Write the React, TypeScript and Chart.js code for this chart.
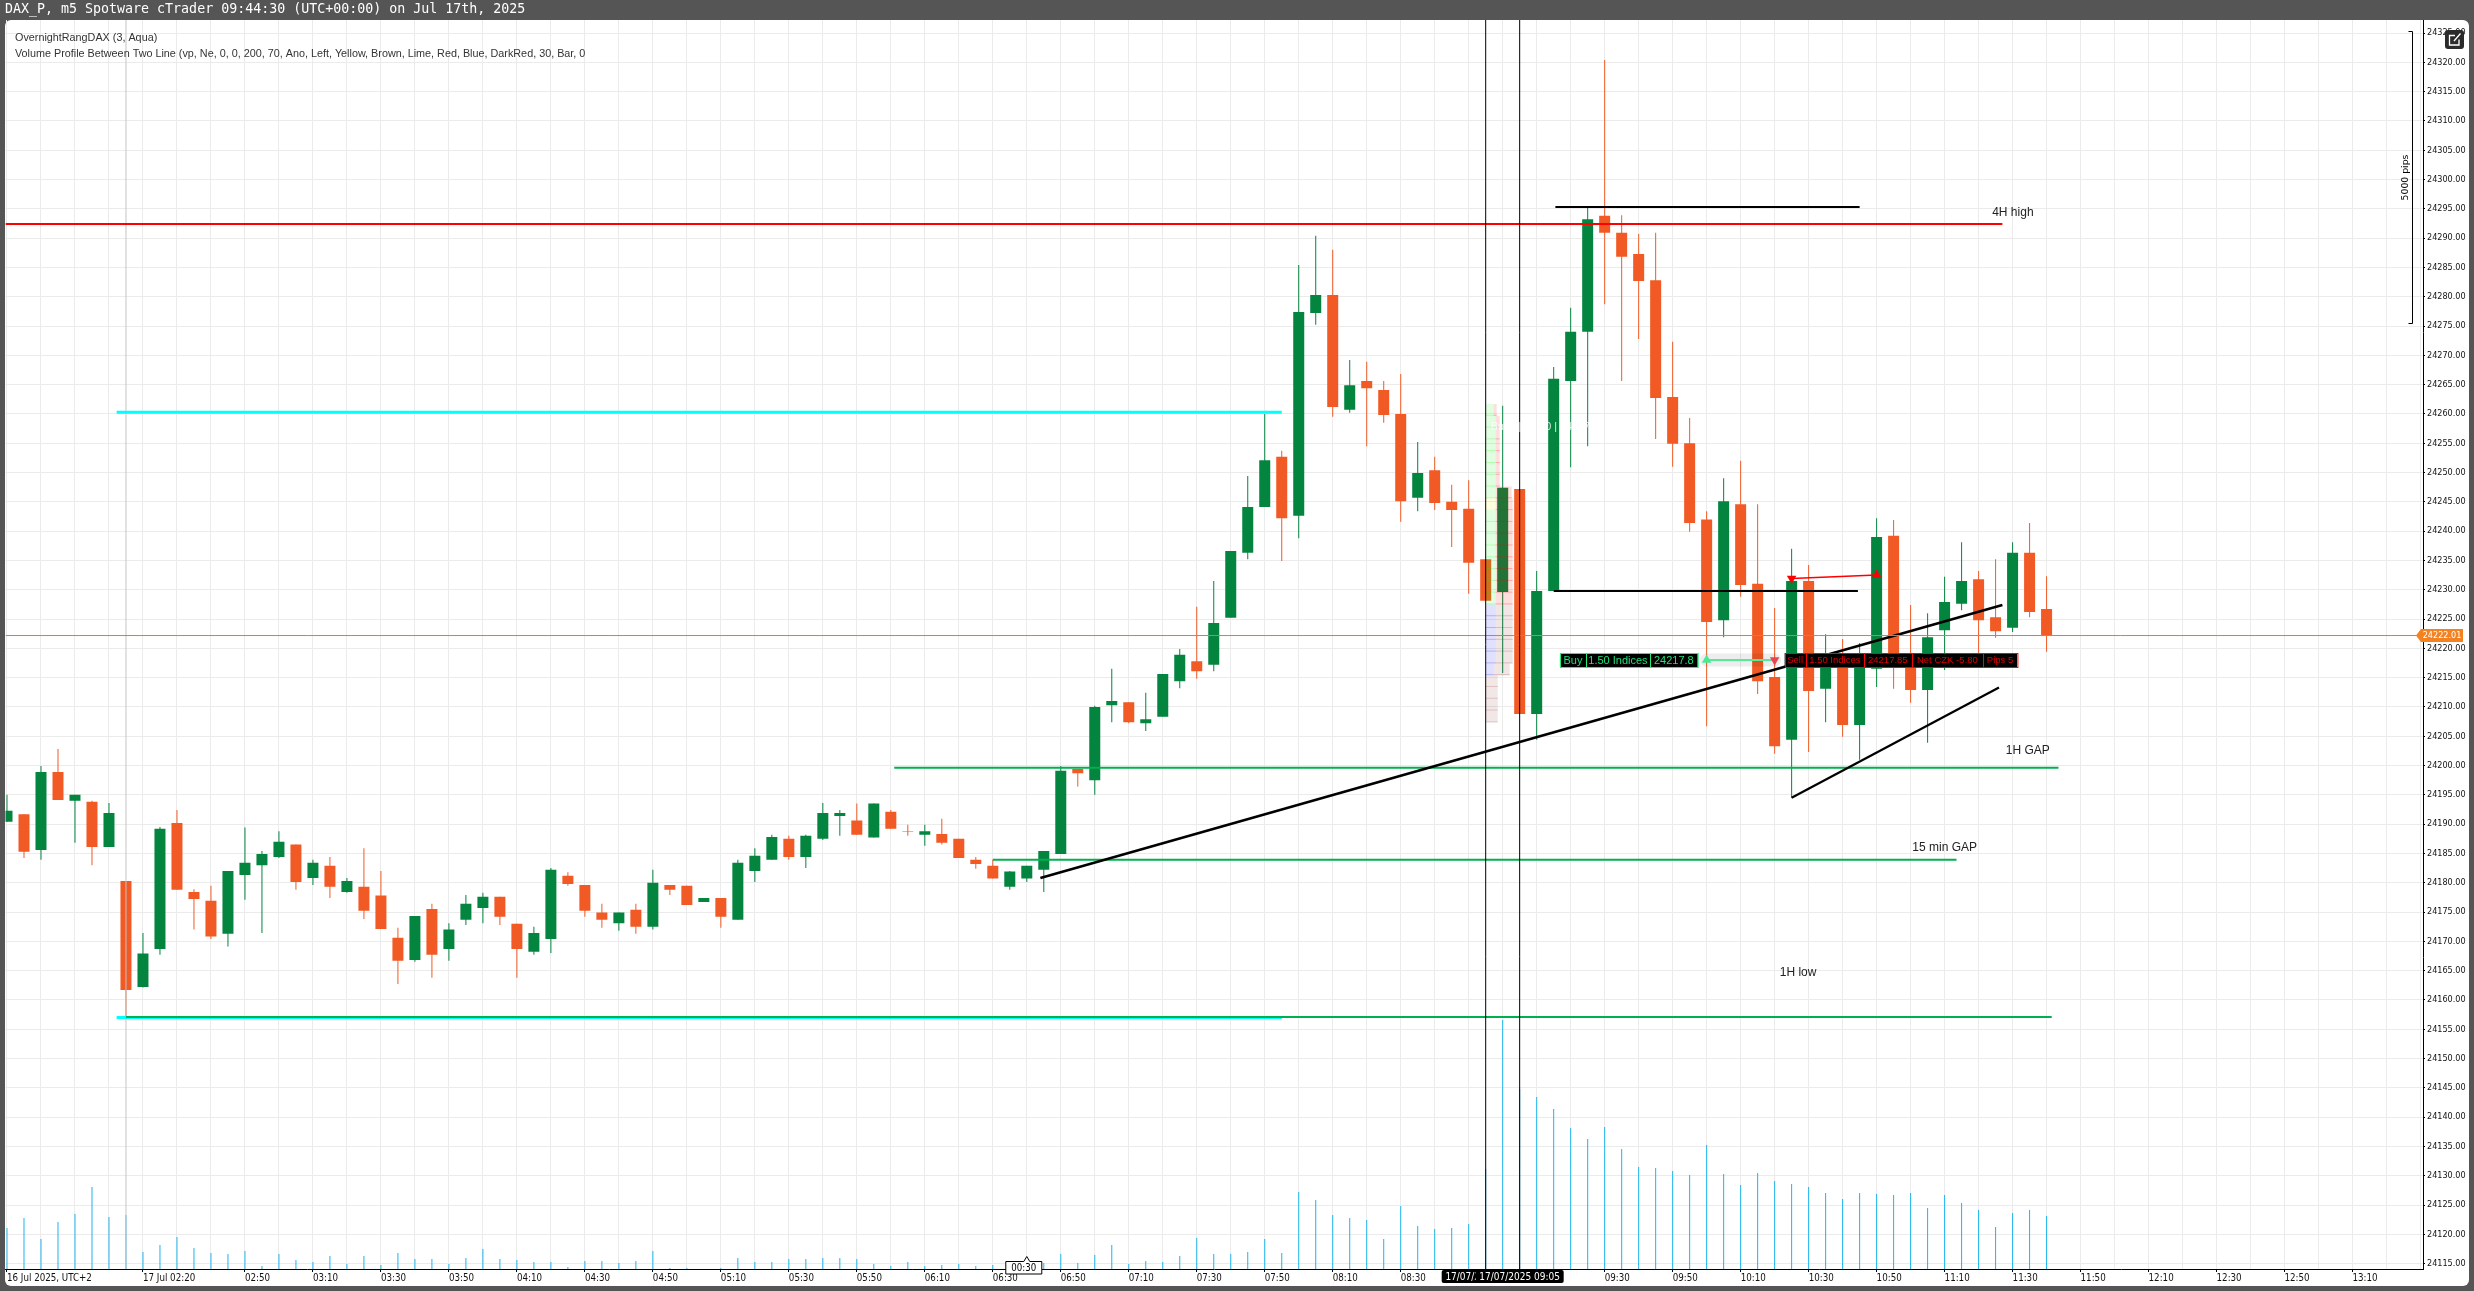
import { useEffect, useRef } from 'react';
import { Chart, registerables } from 'chart.js';

Chart.register(...registerables);

// ---------- candle data (5 minute bars, index 0..120) ----------
const opens = [24190.4,24191.7,24185.6,24198.9,24194.0,24193.8,24186.1,24180.3,24162.2,24168.7,24190.2,24178.4,24176.9,24171.3,24181.3,24183.0,24184.4,24186.5,24180.8,24182.9,24178.4,24179.3,24177.8,24170.6,24166.8,24175.5,24168.7,24173.7,24175.7,24177.6,24173.0,24168.2,24170.4,24181.2,24179.6,24174.9,24173.1,24175.4,24172.5,24179.6,24179.5,24176.7,24177.4,24173.7,24182.0,24183.9,24187.5,24184.4,24187.5,24191.4,24190.6,24187.7,24192.1,24188.8,24188.2,24188.3,24187.5,24183.9,24182.9,24179.3,24180.7,24182.2,24184.9,24199.4,24197.5,24210.3,24210.8,24207.2,24208.3,24214.4,24217.8,24217.2,24225.2,24236.3,24244.1,24252.7,24242.6,24277.2,24280.3,24260.7,24265.6,24264.1,24260.0,24245.7,24250.4,24245.0,24243.8,24235.2,24229.6,24247.2,24208.8,24229.8,24265.6,24274.0,24293.8,24290.9,24287.3,24282.8,24262.9,24255.0,24242.0,24224.8,24244.6,24231.0,24215.1,24204.4,24231.5,24213.1,24218.0,24206.9,24216.5,24239.2,24218.0,24212.9,24223.1,24227.6,24231.8,24225.3,24223.5,24236.3,24226.7];
const highs = [24195.0,24191.7,24199.9,24202.8,24195.0,24194.0,24193.6,24180.3,24171.4,24189.5,24192.4,24178.9,24179.5,24182.0,24189.4,24185.4,24188.8,24186.5,24183.9,24184.4,24180.8,24185.9,24182.0,24172.3,24174.3,24176.4,24173.1,24177.9,24178.3,24177.6,24173.0,24172.5,24182.5,24181.8,24179.6,24176.4,24174.9,24176.4,24182.2,24179.6,24179.5,24177.4,24177.4,24183.9,24185.9,24188.2,24188.0,24188.2,24193.6,24192.4,24193.5,24193.5,24192.4,24189.9,24189.9,24190.9,24187.5,24184.4,24183.9,24182.0,24182.9,24185.4,24199.9,24199.4,24210.2,24216.5,24210.8,24212.4,24215.6,24219.9,24227.1,24231.5,24236.6,24249.4,24260.0,24253.7,24285.4,24290.4,24288.0,24269.2,24268.9,24265.6,24266.8,24255.2,24252.7,24247.9,24248.7,24235.2,24261.4,24247.2,24233.2,24268.0,24278.1,24295.3,24320.4,24293.9,24290.7,24290.9,24272.3,24259.3,24243.4,24249.0,24252.0,24244.6,24226.9,24237.0,24234.2,24222.4,24221.6,24220.9,24242.2,24241.9,24227.4,24226.0,24232.2,24238.1,24233.2,24235.2,24238.1,24241.4,24232.3];
const lows = [24190.4,24184.2,24183.9,24194.1,24186.8,24183.0,24186.1,24156.8,24162.1,24167.7,24178.8,24172.0,24170.4,24169.1,24177.1,24171.4,24184.2,24178.8,24179.6,24177.4,24178.3,24173.8,24172.1,24162.7,24166.5,24163.8,24166.7,24172.8,24173.1,24172.8,24163.8,24167.7,24168.0,24179.5,24174.2,24172.3,24171.8,24171.3,24172.0,24177.9,24176.2,24176.7,24172.3,24173.7,24180.1,24183.9,24183.9,24182.5,24187.3,24188.0,24188.2,24187.7,24189.2,24188.0,24186.3,24186.5,24184.2,24182.4,24180.7,24178.8,24180.1,24178.4,24184.9,24196.4,24195.0,24207.4,24207.2,24205.9,24208.3,24213.2,24214.8,24216.1,24225.2,24235.2,24244.1,24234.9,24238.8,24275.2,24259.5,24260.2,24254.5,24258.5,24241.6,24243.4,24243.6,24237.3,24229.3,24228.1,24215.8,24208.8,24204.4,24229.8,24250.9,24254.5,24278.7,24265.6,24272.8,24255.7,24251.0,24239.9,24206.7,24221.9,24228.8,24212.2,24202.0,24194.5,24202.3,24207.4,24204.9,24201.0,24213.4,24213.1,24210.7,24203.9,24216.3,24226.5,24217.2,24221.8,24222.8,24225.3,24219.4];
const closes = [24192.3,24185.3,24198.9,24194.1,24195.0,24186.1,24191.9,24161.7,24167.9,24189.2,24178.8,24177.2,24170.8,24182.0,24183.4,24184.9,24187.0,24180.1,24183.4,24179.3,24180.3,24175.2,24172.1,24166.7,24174.3,24167.7,24172.0,24176.4,24177.6,24174.2,24168.7,24171.4,24182.2,24179.8,24175.2,24173.7,24174.9,24172.5,24180.0,24178.8,24176.2,24177.4,24174.2,24183.4,24184.6,24187.8,24184.4,24188.0,24191.9,24191.9,24188.2,24193.5,24189.2,24188.7,24188.8,24186.8,24184.2,24183.2,24180.7,24181.9,24182.9,24185.4,24199.1,24198.7,24210.0,24211.0,24207.4,24207.9,24215.6,24218.9,24216.1,24224.3,24236.6,24244.1,24252.1,24242.2,24277.4,24280.3,24261.2,24264.9,24264.4,24259.8,24245.1,24249.9,24244.8,24243.6,24234.6,24228.1,24247.4,24208.8,24229.8,24266.0,24274.0,24293.2,24290.9,24286.8,24282.7,24262.7,24254.9,24241.4,24224.5,24245.1,24230.8,24214.4,24203.3,24231.5,24212.7,24218.0,24206.9,24218.0,24239.0,24217.3,24212.9,24221.9,24227.9,24231.5,24224.8,24222.9,24236.3,24226.2,24222.2];
const volumes = [41,51,30,47,55,82,52,54,17,24,32,21,16,15,18,3,15,9,7,13,5,13,4,16,10,10,5,11,20,10,9,7,7,2,8,8,6,8,18,1,1,0,1,11,7,7,10,10,11,11,10,5,3,7,3,4,5,3,4,3,6,6,15,6,14,24,5,8,7,13,31,15,15,17,30,16,77,69,54,51,49,30,63,43,40,41,45,100,249,180,172,160,141,130,142,120,102,101,98,94,124,95,84,96,88,85,82,76,70,76,75,74,76,61,74,66,59,42,56,59,53];

// ---------- axes ----------
const xRange = [-0.0882, 142.147];
const yRange = [24114.08, 24327.22];
const timeTickIndex = [0,8,14,18,22,26,30,34,38,42,46,50,54,58,62,66,70,74,78,82,86,90,94,98,102,106,110,114,118,122,126,130,134,138];
const timeTickLabel = ['16 Jul 2025, UTC+2','17 Jul 02:20','02:50','03:10','03:30','03:50','04:10','04:30','04:50','05:10','05:30','05:50','06:10','06:30','06:50','07:10','07:30','07:50','08:10','08:30','08:50','09:10','09:30','09:50','10:10','10:30','10:50','11:10','11:30','11:50','12:10','12:30','12:50','13:10'];

// ---------- drawn levels and trend lines: [x index, price, x index, price] ----------
const cyanHigh = [6.45, 24260.3, 75, 24260.3];
const cyanLow = [6.45, 24157.0, 75, 24157.0];
const red4H = [-0.09, 24292.4, 117.4, 24292.4];
const blackTop = [91.1, 24295.3, 109, 24295.3];
const blackMid = [91, 24229.8, 108.9, 24229.8];
const gap1H = [52.2, 24199.6, 120.7, 24199.6];
const gap15m = [58, 24183.9, 114.7, 24183.9];
const low1H = [7, 24157.08, 120.3, 24157.08];
const trendLong = [60.8, 24180.8, 117.4, 24227.4];
const trendShort = [105, 24194.5, 117.2, 24213.3];
const tradeRed = [105, 24231.9, 110, 24232.5];
const tradeGreen = [100, 24218, 104, 24218];
const priceNow = 24222.18;
const priceText = '24222.01';
const vlineGrey = 7;
const vlineA = 87;
const vlineB = 89;
const bracket = [24325.4, 24275.5];

const noteTexts = ['4H high', '1H GAP', '15 min GAP', '1H low'];
const noteX = [116.8, 117.6, 112.1, 104.3];
const noteY = [24294.3, 24202.5, 24186.0, 24164.6];

const buyCells = ['Buy', '1.50 Indices', '24217.8'];
const sellCells = ['Sell', '1.50 Indices', '24217.85', 'Net CZK -5.80', 'Pips 5'];
const buyCellWidths = [26, 64, 47.7];
const sellCellWidths = [21, 58.4, 47.6, 71.4, 34];

// ---------- volume profile (27 rows between the two lines) ----------
const profileTop = 24261.69;
const profileStep = 2.012;
const profileBuy = [8,10,10,10,10,10,10,10,10,10,10,10,10,10,10,10,10,10,10,10,10,10,8,12,12,12,12];
const profileSell = [3,4,4,4,4,4,4,16,17,17,17,17,17,17,17,17,17,17,17,17,17,17,16,0,0,0,0];

const indicatorLines = [
  'OvernightRangDAX (3, Aqua)',
  'Volume Profile Between Two Line (vp, Ne, 0, 0, 200, 70, Ano, Left, Yellow, Brown, Lime, Red, Blue, DarkRed, 30, Bar, 0',
];

const GREEN = '#03843f';
const ORANGE = '#f15a24';
const NARROW = '"DejaVu Sans Condensed", "Liberation Sans", sans-serif';
const SANS = '"Liberation Sans", Arial, sans-serif';

const seg = (s: number[]) => [{ x: s[0], y: s[1] }, { x: s[2], y: s[3] }];
const lineDs = (s: number[], color: string, width: number, order: number, extra: any = {}) => ({
  type: 'line' as const,
  data: seg(s),
  borderColor: color,
  borderWidth: width,
  pointRadius: 0,
  yAxisID: 'y',
  order,
  ...extra,
});
const pointDs = (x: number, y: number, color: string, rotation: number) => ({
  type: 'scatter' as const,
  data: [{ x, y }],
  backgroundColor: color,
  borderWidth: 0,
  pointStyle: 'triangle',
  pointRadius: 5.5,
  rotation,
  yAxisID: 'y',
  order: 1,
});

const indices = opens.map((_, i) => i);
const candleColors = indices.map((i) => (closes[i] >= opens[i] ? GREEN : ORANGE));

const BODY_INDEX = 2;

const drawProfile = (chart: any) => {
  const { ctx } = chart;
  const xs = chart.scales.x;
  const ys = chart.scales.y;
  const base = xs.getPixelForValue(vlineA);
  const unit = (xs.getPixelForValue(1) - xs.getPixelForValue(0)) / 17;
  ctx.save();
  profileBuy.forEach((buy, r) => {
    const top = ys.getPixelForValue(profileTop - r * profileStep);
    const bottom = ys.getPixelForValue(profileTop - (r + 1) * profileStep);
    const h = bottom - top;
    let buyCol = '0,255,0';
    if (r === 8) buyCol = '255,255,0';
    else if (r >= 23) buyCol = '150,60,60';
    else if (r >= 17) buyCol = '0,0,255';
    const sellCol = r >= 17 ? '150,60,60' : '255,0,0';
    const bw = buy * unit;
    const sw = profileSell[r] * unit;
    ctx.fillStyle = `rgba(${buyCol},0.12)`;
    ctx.fillRect(base, top, bw, h);
    ctx.fillStyle = `rgba(${buyCol},0.22)`;
    ctx.fillRect(base, bottom - 1, bw, 1);
    if (sw > 0) {
      ctx.fillStyle = `rgba(${sellCol},0.13)`;
      ctx.fillRect(base + bw, top, sw, h);
      ctx.fillStyle = `rgba(${sellCol},0.25)`;
      ctx.fillRect(base + bw, bottom - 1, sw, 1);
    }
  });
  ctx.restore();
};

const drawCells = (ctx: any, left: number, cy: number, cells: string[], widths: number[], stroke: string, text: string, font: string) => {
  const total = widths.reduce((a, b) => a + b, 0);
  ctx.fillStyle = '#000';
  ctx.fillRect(left, cy - 7, total, 14);
  ctx.strokeStyle = stroke;
  ctx.lineWidth = 1;
  ctx.strokeRect(Math.round(left) + 0.5, Math.round(cy - 7) + 0.5, total, 14);
  ctx.font = font;
  ctx.fillStyle = text;
  ctx.textAlign = 'center';
  ctx.textBaseline = 'middle';
  let x = left;
  cells.forEach((c, i) => {
    ctx.fillText(c, x + widths[i] / 2, cy + 0.5);
    x += widths[i];
    if (i < cells.length - 1) {
      ctx.beginPath();
      ctx.moveTo(Math.round(x) + 0.5, cy - 7);
      ctx.lineTo(Math.round(x) + 0.5, cy + 7);
      ctx.stroke();
    }
  });
};

const chartDecor = {
  id: 'chartDecor',
  beforeDraw(chart: any) {
    const { ctx, width, height } = chart;
    ctx.save();
    ctx.fillStyle = '#555555';
    ctx.fillRect(0, 0, width, height);
    ctx.fillStyle = '#ffffff';
    ctx.beginPath();
    ctx.roundRect(5, 20, 2464, 1266, 6);
    ctx.fill();
    ctx.restore();
  },
  afterDatasetDraw(chart: any, args: any) {
    if (args.index === BODY_INDEX) drawProfile(chart);
  },
  afterDatasetsDraw(chart: any) {
    const { ctx } = chart;
    const xs = chart.scales.x;
    const ys = chart.scales.y;
    ctx.save();
    // indicator captions
    ctx.font = `10.8px ${SANS}`;
    ctx.fillStyle = '#333';
    ctx.textAlign = 'left';
    ctx.textBaseline = 'middle';
    ctx.fillText(indicatorLines[0], 15, 38);
    ctx.fillText(indicatorLines[1], 15, 54);
    // faint order caption
    ctx.fillStyle = 'rgba(255,255,255,0.85)';
    ctx.fillText('Buy   |   1.50 | 24257.8', xs.getPixelForValue(87.3), ys.getPixelForValue(24257.8));
    // notes
    ctx.font = `12px ${SANS}`;
    ctx.fillStyle = '#222';
    noteTexts.forEach((t, i) => {
      ctx.fillText(t, xs.getPixelForValue(noteX[i]), ys.getPixelForValue(noteY[i]));
    });
    // order boxes
    const buyTotal = buyCellWidths.reduce((a, b) => a + b, 0);
    const cy = ys.getPixelForValue(tradeGreen[1]);
    drawCells(ctx, xs.getPixelForValue(tradeGreen[0]) - 9 - buyTotal, cy, buyCells, buyCellWidths, '#22ee77', '#1fe07a', `11px ${SANS}`);
    drawCells(ctx, xs.getPixelForValue(tradeGreen[2]) + 10, cy, sellCells, sellCellWidths, '#ff0000', '#e00000', `9.5px ${SANS}`);
    ctx.restore();
  },
  afterDraw(chart: any) {
    const { ctx, chartArea } = chart;
    const xs = chart.scales.x;
    const ys = chart.scales.y;
    ctx.save();
    // 5000 pips bracket
    const by1 = Math.round(ys.getPixelForValue(bracket[0])) + 0.5;
    const by2 = Math.round(ys.getPixelForValue(bracket[1])) + 0.5;
    const bx = chartArea.right - 10.5;
    ctx.strokeStyle = '#000';
    ctx.lineWidth = 1;
    ctx.beginPath();
    ctx.moveTo(bx - 4, by1);
    ctx.lineTo(bx, by1);
    ctx.lineTo(bx, by2);
    ctx.lineTo(bx - 4, by2);
    ctx.stroke();
    ctx.save();
    ctx.translate(bx - 7, (by1 + by2) / 2);
    ctx.rotate(-Math.PI / 2);
    ctx.font = '9.3px "DejaVu Sans"';
    ctx.fillStyle = '#000';
    ctx.textAlign = 'center';
    ctx.textBaseline = 'middle';
    ctx.fillText('5000 pips', 0, 0);
    ctx.restore();
    // expand icon
    ctx.fillStyle = '#2b2b2b';
    ctx.beginPath();
    ctx.roundRect(2445, 30, 19, 19, 3);
    ctx.fill();
    ctx.strokeStyle = '#fff';
    ctx.lineWidth = 1.3;
    ctx.beginPath();
    ctx.moveTo(2455, 35.5);
    ctx.lineTo(2449.5, 35.5);
    ctx.lineTo(2449.5, 45);
    ctx.lineTo(2459, 45);
    ctx.lineTo(2459, 39.5);
    ctx.moveTo(2454, 41);
    ctx.lineTo(2460.5, 33.5);
    ctx.stroke();
    // price tag
    const py = ys.getPixelForValue(priceNow);
    const pr = chartArea.right;
    ctx.fillStyle = '#f58220';
    ctx.beginPath();
    ctx.moveTo(pr - 7, py);
    ctx.lineTo(pr - 2, py - 6.5);
    ctx.lineTo(pr + 40, py - 6.5);
    ctx.lineTo(pr + 40, py + 6.5);
    ctx.lineTo(pr - 2, py + 6.5);
    ctx.closePath();
    ctx.fill();
    ctx.font = `9px ${NARROW}`;
    ctx.fillStyle = '#fff';
    ctx.textAlign = 'center';
    ctx.textBaseline = 'middle';
    ctx.fillText(priceText, pr + 19, py);
    // crosshair date labels
    [vlineA, vlineB].forEach((v) => {
      const cx = xs.getPixelForValue(v);
      ctx.fillStyle = '#000';
      ctx.beginPath();
      ctx.roundRect(cx - 44, 1270, 88, 13, 2);
      ctx.fill();
      ctx.font = `10px ${NARROW}`;
      ctx.fillStyle = '#fff';
      ctx.fillText('17/07/2025 09:05', cx, 1277);
    });
    // countdown tag
    const tx = xs.getPixelForValue(60);
    ctx.fillStyle = '#fff';
    ctx.strokeStyle = '#000';
    ctx.lineWidth = 1;
    ctx.beginPath();
    ctx.moveTo(tx - 21, 1261.5);
    ctx.lineTo(tx - 3, 1261.5);
    ctx.lineTo(tx, 1256.5);
    ctx.lineTo(tx + 3, 1261.5);
    ctx.lineTo(tx + 15, 1261.5);
    ctx.lineTo(tx + 15, 1274);
    ctx.lineTo(tx - 21, 1274);
    ctx.closePath();
    ctx.fill();
    ctx.stroke();
    ctx.font = `9.6px ${NARROW}`;
    ctx.fillStyle = '#000';
    ctx.fillText('00:30', tx - 3, 1268);
    ctx.restore();
  },
};

export default function App() {
  const ref = useRef<HTMLCanvasElement | null>(null);

  useEffect(() => {
    const canvas = ref.current;
    if (!canvas) return;
    const chart = new Chart(canvas, {
      type: 'bar',
      data: {
        datasets: [
          {
            type: 'bar',
            data: indices.map((i) => ({ x: i, y: volumes[i] })),
            backgroundColor: '#1cb5ee',
            barThickness: 1,
            yAxisID: 'vol',
            order: 10,
            grouped: false,
            inflateAmount: 0,
            borderWidth: 0,
          },
          {
            type: 'bar',
            data: indices.map((i) => ({ x: i, y: [lows[i], highs[i]] })),
            backgroundColor: candleColors,
            barThickness: 1,
            yAxisID: 'y',
            order: 9,
            grouped: false,
            inflateAmount: 0,
            borderWidth: 0,
          },
          {
            type: 'bar',
            data: indices.map((i) => ({ x: i, y: [opens[i], closes[i]] })),
            backgroundColor: candleColors,
            barThickness: 11,
            yAxisID: 'y',
            order: 8,
            grouped: false,
            inflateAmount: 0,
            borderWidth: 0,
          },
          lineDs([vlineGrey, yRange[0], vlineGrey, yRange[1]], '#c4c4c4', 1, 7.5),
          lineDs(cyanHigh, '#00ffff', 3, 7),
          lineDs(cyanLow, '#00ffff', 3, 7),
          lineDs(low1H, '#00b050', 2, 6),
          lineDs(gap1H, '#00b050', 2, 6),
          lineDs(gap15m, '#00b050', 2, 6),
          lineDs(red4H, '#ff0000', 2, 5),
          lineDs(blackTop, '#000000', 2, 5),
          lineDs(blackMid, '#000000', 2, 5),
          lineDs(trendLong, '#000000', 2.6, 5),
          lineDs(trendShort, '#000000', 2.2, 5),
          lineDs([xRange[0], priceNow, xRange[1], priceNow], '#ed7428', 1, 4),
          lineDs([vlineA, yRange[0], vlineA, yRange[1]], '#000000', 1, 3),
          lineDs([vlineB, yRange[0], vlineB, yRange[1]], '#000000', 1, 3),
          lineDs(tradeGreen, 'rgba(0,0,0,0.07)', 13, 2.5, { borderCapStyle: 'round' }),
          lineDs(tradeGreen, '#57e89a', 2, 2),
          lineDs(tradeRed, '#ff0000', 1.5, 2),
          pointDs(tradeGreen[0], tradeGreen[1], '#4be894', 0),
          pointDs(tradeGreen[2], tradeGreen[3], '#e8434f', 180),
          pointDs(tradeRed[0], tradeRed[1], '#ff0000', 180),
          pointDs(tradeRed[2], tradeRed[3], '#ff0000', 0),
        ] as any,
      },
      options: {
        responsive: false,
        animation: false,
        devicePixelRatio: 1,
        layout: { padding: { left: 5, right: 5, top: 0, bottom: 5 } },
        plugins: {
          legend: { display: false },
          tooltip: { enabled: false },
          title: {
            display: true,
            text: 'DAX_P, m5 Spotware cTrader 09:44:30 (UTC+00:00) on Jul 17th, 2025',
            align: 'start',
            color: '#ffffff',
            font: { family: '"DejaVu Sans Mono"', size: 13.3, weight: 'normal', lineHeight: '16px' },
            padding: { top: 2, bottom: 2 },
          },
        },
        scales: {
          x: {
            type: 'linear',
            offset: false,
            min: xRange[0],
            max: xRange[1],
            afterFit: (s: any) => {
              s.height = 17;
            },
            afterBuildTicks: (s: any) => {
              const t: any[] = [];
              for (let v = 0; v <= xRange[1]; v += 2) t.push({ value: v });
              s.ticks = t;
            },
            border: { color: '#000', width: 1 },
            grid: {
              offset: false,
              color: '#ebebeb',
              tickLength: 3,
              tickColor: (c: any) => (timeTickIndex.includes(c.tick?.value) ? '#000' : 'rgba(0,0,0,0)'),
            },
            ticks: {
              autoSkip: false,
              maxRotation: 0,
              minRotation: 0,
              align: 'start',
              padding: 1,
              color: '#111',
              font: { family: NARROW, size: 9.7 },
              callback: (v: any) => {
                const k = timeTickIndex.indexOf(Number(v));
                return k >= 0 ? timeTickLabel[k] : '';
              },
            },
          },
          y: {
            type: 'linear',
            position: 'right',
            min: yRange[0],
            max: yRange[1],
            afterFit: (s: any) => {
              s.width = 46;
            },
            border: { color: '#000', width: 1 },
            grid: { color: '#ebebeb', tickLength: 2, tickColor: '#000' },
            ticks: {
              stepSize: 5,
              includeBounds: false,
              autoSkip: false,
              padding: 2,
              color: '#111',
              font: { family: NARROW, size: 9 },
              callback: (v: any) => Number(v).toFixed(2),
            },
          },
          vol: { type: 'linear', display: false, min: 0, max: 1249 },
        },
      } as any,
      plugins: [chartDecor],
    });
    return () => chart.destroy();
  }, []);

  return (
    <canvas
      ref={ref}
      width={2474}
      height={1291}
      style={{ position: 'fixed', left: 0, top: 0, width: 2474, height: 1291, display: 'block' }}
    />
  );
}
